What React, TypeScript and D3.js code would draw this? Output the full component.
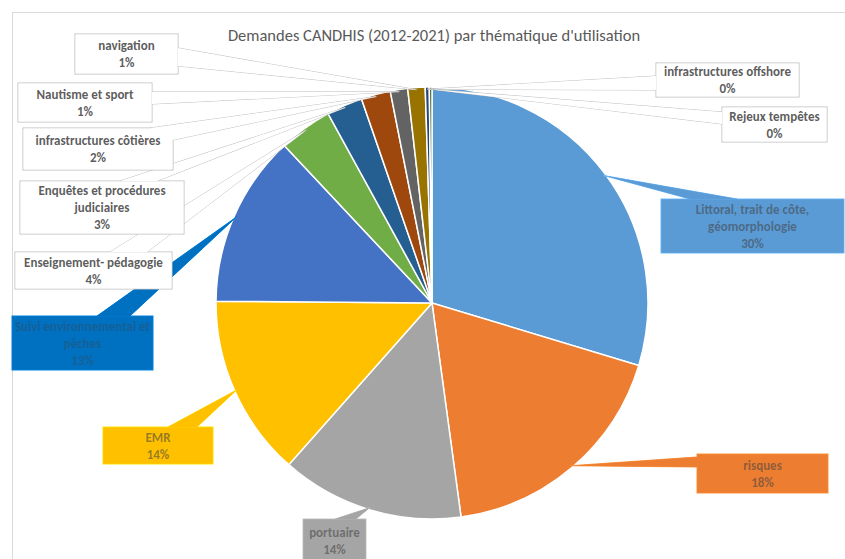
import React from "react";
import * as d3 from "d3";

const title = "Demandes CANDHIS (2012-2021) par thématique d'utilisation";

const categories = [
  "Littoral, trait de côte, géomorphologie",
  "risques",
  "portuaire",
  "EMR",
  "Suivi environnemental et pêches",
  "Enseignement- pédagogie",
  "Enquêtes et procédures judiciaires",
  "infrastructures côtières",
  "Nautisme et sport",
  "navigation",
  "infrastructures offshore",
  "Rejeux tempêtes",
];

const values = [29.7, 18.2, 13.7, 13.6, 12.9, 4.0, 2.7, 2.2, 1.3, 1.3, 0.3, 0.2];

const sliceColors = [
  "#5B9BD5", "#ED7D31", "#A5A5A5", "#FFC000", "#4472C4", "#70AD47",
  "#255E91", "#9E480E", "#636363", "#997300", "#264478", "#43682B",
];

// label callout layout: box [x0,y0,x1,y1], wedge base points, fill
type Lay = { box: number[]; base: number[][]; fill: string | null };
const layout: Lay[] = [
  { box: [661, 199, 844, 253], base: [[690, 199], [737, 199]], fill: "#5B9BD5" },
  { box: [697, 454, 828, 493], base: [[697, 457], [697, 467]], fill: "#ED7D31" },
  { box: [303, 519, 366, 563], base: [[335, 519], [356, 519]], fill: "#A5A5A5" },
  { box: [103, 427, 213, 464], base: [[168, 427], [197, 427]], fill: "#FFC000" },
  { box: [12, 316, 153, 370], base: [[97, 316], [130, 316]], fill: "#0070C0" },
  { box: [15, 252, 172, 289], base: [[110, 252], [147, 252]], fill: null },
  { box: [20, 181, 184, 234], base: [[120, 181], [157, 181]], fill: null },
  { box: [23, 128, 173, 170], base: [[150, 128], [173, 140]], fill: null },
  { box: [18, 83, 152, 122], base: [[152, 92], [152, 104]], fill: null },
  { box: [75, 34, 178, 74], base: [[178, 48], [178, 66]], fill: null },
  { box: [656, 63, 799, 97], base: [[656, 76], [656, 90]], fill: null },
  { box: [722, 107, 827, 142], base: [[722, 112], [722, 124]], fill: null },
];

function wrap(s: string, max: number): string[] {
  const words = s.split(" ");
  const lines: string[] = [];
  let cur = "";
  for (const w of words) {
    const t = cur ? cur + " " + w : w;
    if (t.length > max && cur) {
      lines.push(cur);
      cur = w;
    } else cur = t;
  }
  if (cur) lines.push(cur);
  return lines;
}

const W = 845;
const H = 559;
const cx = 432;
const cy = 303;
const R = 216;
const FONT = "Carlito, 'Liberation Sans Narrow', 'Open Sans', sans-serif";

export default function App() {
  const total = d3.sum(values);
  const pie = d3.pie<number>().sort(null).value((d) => d);
  const arcs = pie(values);
  const arc = d3.arc<d3.PieArcDatum<number>>().innerRadius(0).outerRadius(R);
  const edge = d3.arc<d3.PieArcDatum<number>>().innerRadius(R * 0.99).outerRadius(R * 0.99);
  const lh = 17;

  return (
    <svg width={W} height={H} style={{ position: "absolute", left: 0, top: 0 }}>
      <rect x={0} y={0} width={W} height={H} fill="#fff" />
      <rect x={12.5} y={12.5} width={W} height={H} fill="none" stroke="#D9D9D9" />
      <text x={434} y={35} textAnchor="middle" dominantBaseline="central" fontFamily={FONT} fontSize={16.5} fill="#595959">
        {title}
      </text>
      <g transform={`translate(${cx},${cy})`}>
        {arcs.map((a, i) => (
          <path key={i} d={arc(a) || ""} fill={sliceColors[i]} stroke="#fff" strokeWidth={1.5} />
        ))}
      </g>
      {arcs.map((a, i) => {
        const L = layout[i];
        const [tx, ty] = edge.centroid(a);
        const tip = [tx + cx, ty + cy];
        const [x0, y0, x1, y1] = L.box;
        const filled = !!L.fill;
        const fill = L.fill || "#fff";
        const stroke = filled ? d3.color(L.fill!)!.brighter(0.5).toString() : "#BFBFBF";
        const lines = [...wrap(categories[i], 25), Math.round((values[i] / total) * 100) + "%"];
        const mx = (x0 + x1) / 2;
        const my = (y0 + y1) / 2;
        const wedge = `M${L.base[0][0]},${L.base[0][1]}L${tip[0]},${tip[1]}L${L.base[1][0]},${L.base[1][1]}Z`;
        return (
          <g key={"l" + i}>
            <path d={wedge} fill={fill} stroke={stroke} strokeWidth={1} />
            <rect x={x0} y={y0} width={x1 - x0} height={y1 - y0} fill={fill} stroke={stroke} strokeWidth={1} />
            <path d={wedge} fill={fill} stroke="none" />
            <rect x={x0 + 0.5} y={y0 + 0.5} width={x1 - x0 - 1} height={y1 - y0 - 1} fill={fill} stroke="none" />
            {lines.map((t, k) => (
              <text
                key={k}
                x={mx}
                y={my + (k - (lines.length - 1) / 2) * lh}
                textAnchor="middle"
                dominantBaseline="central"
                fontFamily={FONT}
                fontWeight="bold"
                fontSize={13}
                fill="#404040"
                fillOpacity={filled ? (i === 4 ? 0.35 : 0.55) : 0.85}
              >
                {t}
              </text>
            ))}
          </g>
        );
      })}
    </svg>
  );
}
